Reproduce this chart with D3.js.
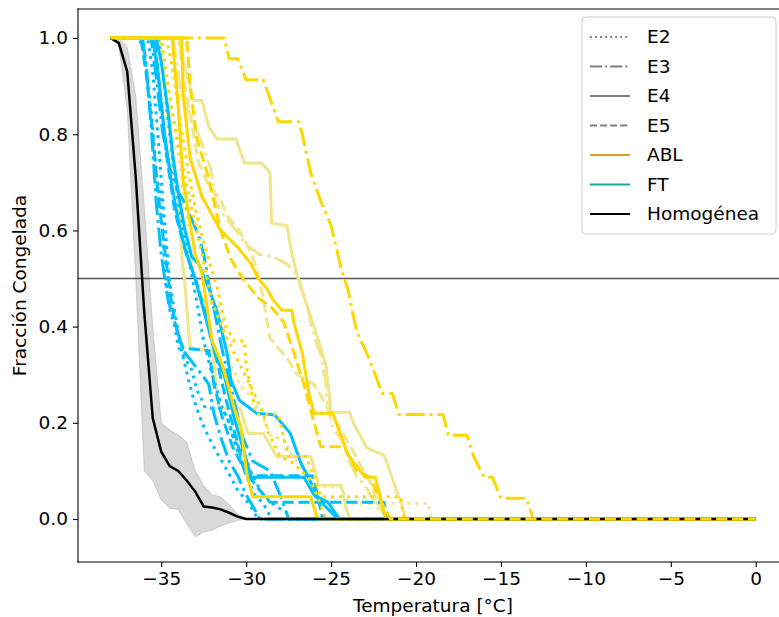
<!DOCTYPE html>
<html>
<head>
<meta charset="utf-8">
<script src="https://cdn.jsdelivr.net/npm/d3@7"></script>
<style>
  body { margin: 0; background: #fff; }
  svg { display: block; }
  text { font-family: "DejaVu Sans", sans-serif; fill: #000; }
</style>
</head>
<body>
<svg id="chart" width="779" height="617"></svg>
<script>
// ---- Homogeneous freezing: mean curve and spread band ----
const homT    = [-38, -37.5, -37, -36.5, -36, -35.5, -35, -34.5, -34, -33.5, -33, -32.5, -32, -31.5, -31, -30.5, -30];
const homMean = [1.0, 0.99, 0.93, 0.71, 0.43, 0.21, 0.14, 0.11, 0.10, 0.08, 0.057, 0.026, 0.024, 0.02, 0.013, 0.005, 0];
const homLow  = [1.0, 0.985, 0.85, 0.50, 0.10, 0.08, 0.04, 0.022, 0.02, -0.01, -0.037, -0.027, -0.023, -0.015, -0.008, -0.003, 0];
const homHigh = [1.0, 1.0, 0.98, 0.88, 0.65, 0.40, 0.20, 0.185, 0.175, 0.16, 0.10, 0.07, 0.05, 0.046, 0.03, 0.01, 0];

// ---- ABL samples: [temperature °C, frozen fraction] ----
const ablE2a = [[-38,1],[-34.7,1],[-34.3,0.93],[-33.9,0.83],[-33.4,0.72],[-32.9,0.63],[-32.3,0.55],[-31.7,0.48],[-31.2,0.40],[-30.7,0.37],[-30.1,0.37],[-30.0,0.32],[-29.5,0.23],[-29.4,0.218],[-28.1,0.218],[-27.8,0.17],[-27.5,0.13],[-26.5,0.13],[-26.0,0.09],[-25.6,0.046],[-20.9,0.046],[-20.7,0],[0,0]];
const ablE2b = [[-38,1],[-35.0,1],[-34.6,0.9],[-34.0,0.78],[-33.3,0.66],[-32.6,0.55],[-32.0,0.45],[-31.2,0.38],[-30.5,0.33],[-29.7,0.274],[-29.0,0.22],[-28.7,0.18],[-28.0,0.13],[-27.2,0.116],[-26.2,0.08],[-25.8,0.046],[-25.3,0],[0,0]];
const ablE3  = [[-38,1],[-31.3,1],[-31.0,0.957],[-30.5,0.957],[-30.0,0.913],[-29.0,0.913],[-28.1,0.826],[-26.9,0.826],[-26.7,0.80],[-26.2,0.72],[-25.6,0.66],[-25.0,0.61],[-24.4,0.52],[-24.0,0.476],[-23.5,0.39],[-22.9,0.345],[-22.4,0.30],[-22.0,0.261],[-21.4,0.261],[-21.0,0.217],[-18.4,0.217],[-18.1,0.174],[-17.0,0.174],[-16.6,0.13],[-16.0,0.087],[-15.5,0.087],[-15.0,0.043],[-13.5,0.043],[-13.1,0],[0,0]];
const ablE4a = [[-38,1],[-34.35,1],[-34.05,0.88],[-33.7,0.70],[-33.0,0.55],[-32.6,0.51],[-32.0,0.37],[-31.4,0.32],[-31.0,0.27],[-30.7,0.23],[-30.3,0.19],[-29.95,0.09],[-29.6,0.046],[-26.2,0.046],[-25.8,0],[0,0]];
const ablE4b = [[-38,1],[-33.8,1],[-33.7,0.88],[-33.3,0.75],[-32.6,0.67],[-31.5,0.60],[-30.5,0.565],[-29.7,0.53],[-29.3,0.50],[-28.8,0.48],[-28.4,0.455],[-27.9,0.434],[-27.3,0.434],[-27.2,0.41],[-26.7,0.345],[-26.3,0.26],[-26.0,0.22],[-24.9,0.22],[-24.0,0.133],[-23.0,0.087],[-22.4,0.087],[-22.1,0.046],[-21.8,0],[0,0]];
const ablE5  = [[-38,1],[-33.5,1],[-33.3,0.9],[-32.9,0.79],[-32.3,0.72],[-31.5,0.60],[-30.9,0.54],[-30.2,0.50],[-29.3,0.46],[-28.5,0.44],[-27.8,0.41],[-27.2,0.347],[-26.6,0.28],[-26.0,0.2],[-25.6,0.15],[-24.2,0.15],[-24.0,0.133],[-23.5,0.10],[-22.7,0.087],[-22.2,0.046],[-21.5,0],[0,0]];

// ---- ABL, second campaign (pale) ----
const ablPaleE2  = [[-38,1],[-35.0,1],[-34.6,0.9],[-34.1,0.78],[-33.6,0.66],[-33.2,0.52],[-32.7,0.455],[-31.5,0.44],[-31.1,0.337],[-30.3,0.274],[-29.6,0.25],[-29.0,0.21],[-28.5,0.17],[-27.8,0.168],[-27.3,0.13],[-26.5,0.10],[-25.6,0.067],[-24.4,0.067],[-24.0,0.033],[-19.3,0.033],[-19.1,0],[0,0]];
const ablPaleE3  = [[-38,1],[-34.3,1],[-33.8,0.88],[-33.3,0.84],[-32.7,0.79],[-32.1,0.73],[-31.8,0.66],[-31.3,0.63],[-30.6,0.60],[-30.0,0.57],[-29.2,0.55],[-28.4,0.545],[-27.6,0.53],[-27.0,0.507],[-26.4,0.44],[-26.0,0.38],[-25.6,0.34],[-25.3,0.28],[-25.2,0.23],[-24.9,0.19],[-24.2,0.154],[-23.9,0.118],[-23.5,0.09],[-22.9,0.064],[-22.3,0.023],[-21.8,0.008],[-21.6,0],[0,0]];
const ablPaleE4a = [[-38,1],[-34.0,1],[-33.6,0.94],[-33.1,0.87],[-32.6,0.87],[-32.2,0.815],[-31.7,0.79],[-30.6,0.79],[-30.1,0.74],[-29.1,0.74],[-28.6,0.72],[-28.5,0.615],[-27.6,0.61],[-27.3,0.55],[-27.0,0.507],[-26.0,0.40],[-25.3,0.32],[-25.0,0.222],[-23.9,0.222],[-23.7,0.20],[-22.9,0.148],[-21.9,0.133],[-21.8,0.125],[-20.9,0.035],[-20.6,0],[0,0]];
const ablPaleE4b = [[-38,1],[-35.1,1],[-34.85,0.91],[-34.45,0.79],[-34.0,0.67],[-33.75,0.53],[-33.65,0.507],[-33.3,0.355],[-32.0,0.35],[-31.6,0.23],[-30.35,0.23],[-29.9,0.178],[-29.0,0.178],[-28.2,0.13],[-26.2,0.13],[-25.7,0.07],[-24.4,0.07],[-24.1,0.02],[-23.85,0],[0,0]];
const ablPaleE5  = [[-38,1],[-34.0,1],[-33.7,0.92],[-33.2,0.82],[-32.8,0.74],[-32.3,0.70],[-31.5,0.663],[-31.1,0.63],[-30.4,0.60],[-29.8,0.56],[-29.4,0.524],[-29.0,0.46],[-28.6,0.376],[-27.6,0.335],[-27.0,0.30],[-26.0,0.28],[-25.0,0.22],[-24.0,0.16],[-23.4,0.12],[-22.7,0.077],[-22.2,0.03],[-21.8,0],[0,0]];

// ---- FT samples ----
const ftE2a = [[-38,1],[-36.3,1],[-36.0,0.97],[-35.6,0.85],[-35.3,0.72],[-35.0,0.66],[-34.8,0.52],[-34.5,0.435],[-34.2,0.40],[-34.0,0.358],[-33.2,0.31],[-32.9,0.268],[-32.6,0.247],[-32.4,0.23],[-31.4,0.23],[-31.0,0.20],[-30.6,0.15],[-30.0,0.09],[-29.5,0.05],[-29.0,0.033],[-28.5,0],[0,0]];
const ftE2b = [[-38,1],[-35.8,1],[-35.5,0.93],[-35.2,0.80],[-34.9,0.66],[-34.5,0.49],[-34.2,0.43],[-33.85,0.358],[-33.4,0.29],[-33.1,0.25],[-32.6,0.20],[-32.2,0.17],[-31.6,0.13],[-31.1,0.10],[-30.5,0.06],[-29.8,0.03],[-29.3,0],[0,0]];
const ftE2c = [[-38,1],[-35.2,1],[-34.9,0.93],[-34.5,0.8],[-34.0,0.66],[-33.5,0.56],[-33.0,0.47],[-32.5,0.37],[-32.0,0.30],[-31.4,0.23],[-31.1,0.21],[-30.7,0.163],[-30.1,0.135],[-29.7,0.095],[-29.1,0.055],[-28.5,0.033],[-27.5,0.01],[-27.3,0],[0,0]];
const ftE3a = [[-38,1],[-36.1,1],[-35.9,0.95],[-35.6,0.82],[-35.3,0.66],[-35.0,0.55],[-34.6,0.455],[-34.0,0.385],[-33.7,0.35],[-32.6,0.30],[-32.2,0.28],[-31.9,0.22],[-31.5,0.17],[-31.0,0.12],[-30.5,0.09],[-30.0,0.05],[-29.5,0.02],[-29.2,0],[0,0]];
const ftE3b = [[-38,1],[-35.6,1],[-35.3,0.92],[-34.9,0.80],[-34.5,0.73],[-34.0,0.68],[-33.7,0.663],[-32.8,0.59],[-32.5,0.55],[-32.2,0.49],[-31.8,0.42],[-31.4,0.35],[-30.8,0.26],[-30.2,0.17],[-29.6,0.12],[-28.6,0.10],[-28.0,0.05],[-27.5,0],[0,0]];
const ftE4a = [[-38,1],[-35.3,1],[-35.0,0.95],[-34.6,0.85],[-34.3,0.75],[-34.0,0.68],[-33.6,0.60],[-33.2,0.545],[-32.8,0.53],[-32.2,0.48],[-31.7,0.43],[-31.1,0.34],[-30.9,0.289],[-30.4,0.247],[-29.4,0.22],[-28.3,0.216],[-27.4,0.178],[-26.8,0.118],[-26.2,0.077],[-25.8,0.046],[-25.2,0.035],[-24.5,0],[0,0]];
const ftE4b = [[-38,1],[-35.5,1],[-35.2,0.93],[-34.8,0.80],[-34.4,0.70],[-34.0,0.62],[-33.5,0.55],[-33.0,0.50],[-32.4,0.42],[-31.8,0.34],[-31.3,0.30],[-30.7,0.21],[-29.7,0.087],[-26.6,0.087],[-26.0,0.05],[-24.6,0],[0,0]];
const ftE5a = [[-38,1],[-36.2,1],[-35.9,0.93],[-35.5,0.80],[-35.2,0.68],[-34.8,0.56],[-34.4,0.45],[-34.0,0.38],[-33.7,0.355],[-32.2,0.35],[-31.9,0.28],[-31.4,0.21],[-30.8,0.15],[-30.2,0.11],[-29.6,0.09],[-26.1,0.09],[-25.8,0.05],[-25.5,0],[0,0]];
const ftE5b = [[-38,1],[-35.4,1],[-35.1,0.9],[-34.7,0.76],[-34.2,0.64],[-33.6,0.56],[-33.0,0.50],[-32.4,0.43],[-31.8,0.34],[-31.2,0.25],[-30.6,0.17],[-30.1,0.1],[-29.2,0.06],[-28.6,0.035],[-21.9,0.035],[-21.6,0],[0,0]];

// ---- Axis ticks and legend entries ----
const xTicks = [-35, -30, -25, -20, -15, -10, -5, 0];
const yTicks = [0.0, 0.2, 0.4, 0.6, 0.8, 1.0];
const legendStyles = ["E2", "E3", "E4", "E5"];
const legendGroups = ["ABL", "FT", "Homogénea"];
const thresholdFraction = 0.5;

// ---- Styling ----
const colours = { abl: "#FFD700", ablPale: "#F0E68C", ft: "#00BFFF" };
const LW = 3;
const dashes = {
  E2: [1, 1.65], E3: [6.4, 1.6, 1, 1.6], E4: null, E5: [3.7, 1.6]
};
const dashFor = (key, lw) => dashes[key] ? dashes[key].map(d => d * lw).join(",") : null;

// curves drawn beneath the homogeneous line
const seriesBelow = [
  { data: ablPaleE2, c: "ablPale", s: "E2" },
  { data: ablPaleE3, c: "ablPale", s: "E3" },
  { data: ablPaleE4a, c: "ablPale", s: "E4" },
  { data: ablPaleE4b, c: "ablPale", s: "E4" },
  { data: ablPaleE5, c: "ablPale", s: "E5" },
  { data: ftE2a, c: "ft", s: "E2" },
  { data: ftE2b, c: "ft", s: "E2" },
  { data: ftE2c, c: "ft", s: "E2" },
  { data: ftE3a, c: "ft", s: "E3" },
  { data: ftE3b, c: "ft", s: "E3" },
  { data: ftE4a, c: "ft", s: "E4" },
  { data: ftE4b, c: "ft", s: "E4" },
  { data: ftE5a, c: "ft", s: "E5" },
  { data: ftE5b, c: "ft", s: "E5" },
  { data: ablE4a, c: "abl", s: "E4" },
  { data: ablE4b, c: "abl", s: "E4" },
  { data: ablE2a, c: "abl", s: "E2" },
  { data: ablE2b, c: "abl", s: "E2" },
  { data: ablE3, c: "abl", s: "E3" }
];
// curves drawn on top of it
const seriesAbove = [
  { data: ablE5, c: "abl", s: "E5" }
];

// ---- Layout ----
const svg = d3.select("#chart");
const plot = { left: 78, right: 788, top: 9, bottom: 562 };
const x = d3.scaleLinear().domain([-39.9, 1.9]).range([plot.left, plot.right]);
const y = d3.scaleLinear().domain([-0.0894, 1.0603]).range([plot.bottom, plot.top]);

svg.append("defs").append("clipPath").attr("id", "plotclip")
  .append("rect").attr("x", plot.left).attr("y", plot.top)
  .attr("width", plot.right - plot.left).attr("height", plot.bottom - plot.top);

const g = svg.append("g").attr("clip-path", "url(#plotclip)");

// spread band of homogeneous freezing
const bandData = homT.map((t, i) => ({ t, lo: homLow[i], hi: homHigh[i] }));
g.append("path")
  .datum(bandData)
  .attr("d", d3.area().x(d => x(d.t)).y0(d => y(d.lo)).y1(d => y(d.hi)))
  .attr("fill", "grey").attr("fill-opacity", 0.3)
  .attr("stroke", "grey").attr("stroke-opacity", 0.3).attr("stroke-width", 1);

// 50 % reference line
g.append("line")
  .attr("x1", plot.left).attr("x2", plot.right)
  .attr("y1", y(thresholdFraction)).attr("y2", y(thresholdFraction))
  .attr("stroke", "#555").attr("stroke-width", 1.4);

const line = d3.line().x(d => x(d[0])).y(d => y(d[1]));
const drawCurve = sr => g.append("path").datum(sr.data).attr("d", line)
  .attr("fill", "none")
  .attr("stroke", colours[sr.c])
  .attr("stroke-width", LW)
  .attr("stroke-linejoin", "round")
  .attr("stroke-dasharray", dashFor(sr.s, LW));

seriesBelow.forEach(drawCurve);

// homogeneous mean curve, continued at zero up to 0 °C
const homLine = homT.map((t, i) => [t, homMean[i]]).concat([[0, 0]]);
g.append("path").datum(homLine).attr("d", line)
  .attr("fill", "none").attr("stroke", "#000").attr("stroke-width", 2.5);

seriesAbove.forEach(drawCurve);

// ---- Axes ----
const minus = v => (v < 0 ? "\u2212" + Math.abs(v) : String(v));
const xAxis = svg.append("g").attr("transform", `translate(0,${plot.bottom})`)
  .call(d3.axisBottom(x).tickValues(xTicks).tickFormat(minus).tickSize(5).tickPadding(5));
const yAxis = svg.append("g").attr("transform", `translate(${plot.left},0)`)
  .call(d3.axisLeft(y).tickValues(yTicks).tickFormat(d3.format(".1f")).tickSize(5).tickPadding(5));
[xAxis, yAxis].forEach(a => {
  a.select(".domain").remove();
  a.selectAll(".tick line").attr("stroke", "#000").attr("stroke-width", 1.1);
  a.selectAll(".tick text").attr("font-size", 18.5).attr("font-family", "DejaVu Sans").attr("fill", "#000");
});

// spines (the right spine falls outside the canvas)
const spine = (x1, y1, x2, y2) => svg.append("line").attr("x1", x1).attr("y1", y1).attr("x2", x2).attr("y2", y2)
  .attr("stroke", "#000").attr("stroke-width", 1.1).attr("stroke-linecap", "square");
spine(plot.left, plot.top, plot.left, plot.bottom);
spine(plot.left, plot.bottom, plot.right, plot.bottom);
spine(plot.left, plot.top, plot.right, plot.top);
spine(plot.right, plot.top, plot.right, plot.bottom);

svg.append("text").attr("x", (plot.left + plot.right) / 2).attr("y", 612)
  .attr("text-anchor", "middle").attr("font-size", 18.5).text("Temperatura [°C]");
svg.append("text")
  .attr("transform", `translate(26,${(plot.top + plot.bottom) / 2}) rotate(-90)`)
  .attr("text-anchor", "middle").attr("font-size", 18.5).text("Fracción Congelada");

// ---- Legend ----
const leg = svg.append("g").attr("transform", "translate(582,17)");
leg.append("rect").attr("width", 194).attr("height", 217).attr("rx", 4)
  .attr("fill", "#fff").attr("fill-opacity", 0.8).attr("stroke", "#ccc").attr("stroke-width", 1);
const legendEntries = legendStyles.map(s => ({ label: s, colour: "grey", dash: s }))
  .concat([
    { label: legendGroups[0], colour: "#DAA520", dash: "E4" },
    { label: legendGroups[1], colour: "#17A6A6", dash: "E4" },
    { label: legendGroups[2], colour: "#000", dash: "E4" }
  ]);
const HLW = 1.9;
legendEntries.forEach((e, i) => {
  const cy = 20 + i * 29.5;
  leg.append("line").attr("x1", 8).attr("x2", 48).attr("y1", cy).attr("y2", cy)
    .attr("stroke", e.colour).attr("stroke-width", HLW)
    .attr("stroke-dasharray", dashFor(e.dash, HLW));
  leg.append("text").attr("x", 65).attr("y", cy).attr("dy", "0.35em")
    .attr("font-size", 18.5).text(e.label);
});
</script>
</body>
</html>
